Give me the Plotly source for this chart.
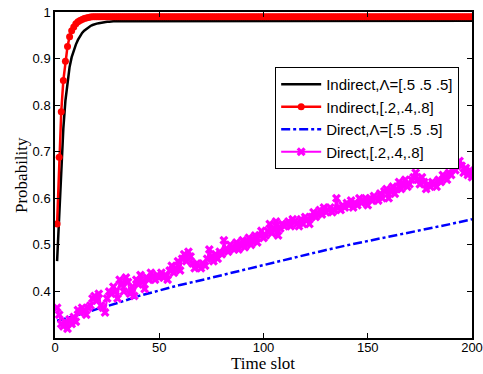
import plotly.graph_objects as go

# ---- data ----
time_slots = list(range(1, 201))

indirect_uniform = [0.465, 0.56, 0.66, 0.75, 0.81, 0.852, 0.882, 0.903, 0.918, 0.93,
                    0.94, 0.948, 0.955, 0.96, 0.964, 0.967, 0.97, 0.972, 0.974, 0.975,
                    0.976, 0.977, 0.978, 0.978, 0.979, 0.979, 0.98, 0.98, 0.98, 0.98] + [0.981] * 170

indirect_varied = [0.545, 0.688, 0.786, 0.853, 0.894, 0.926, 0.947, 0.96, 0.968, 0.975,
                   0.979, 0.982, 0.984, 0.986, 0.987, 0.988, 0.989] + [0.99] * 183

direct_uniform_x = [1, 10, 20, 30, 40, 50, 60, 70, 80, 90, 100, 110, 120, 130, 140,
                    150, 160, 170, 180, 190, 200]
direct_uniform = [0.337, 0.348, 0.362, 0.375, 0.39, 0.402, 0.414, 0.424, 0.435, 0.446,
                  0.457, 0.467, 0.478, 0.489, 0.499, 0.508, 0.517, 0.526, 0.536, 0.545, 0.555]

direct_varied = [
    0.365, 0.35, 0.33, 0.325, 0.335, 0.32, 0.34, 0.33, 0.345, 0.335,
    0.36, 0.355, 0.365, 0.36, 0.35, 0.365, 0.37, 0.385, 0.39, 0.38,
    0.395, 0.37, 0.365, 0.355, 0.385, 0.40, 0.395, 0.41, 0.40, 0.385,
    0.425, 0.415, 0.40, 0.43, 0.42, 0.395, 0.41, 0.39, 0.425, 0.415,
    0.435, 0.42, 0.405, 0.43, 0.425, 0.44, 0.43, 0.425, 0.435, 0.43,
    0.44, 0.43, 0.435, 0.425, 0.445, 0.455, 0.44, 0.45, 0.465, 0.445,
    0.47, 0.48, 0.465, 0.485, 0.475, 0.46, 0.45, 0.46, 0.455, 0.45,
    0.46, 0.455, 0.47, 0.49, 0.475, 0.465, 0.48, 0.47, 0.485, 0.48,
    0.51, 0.49, 0.485, 0.5, 0.495, 0.49, 0.505, 0.49, 0.5, 0.51,
    0.495, 0.505, 0.515, 0.5, 0.51, 0.52, 0.505, 0.52, 0.53, 0.515,
    0.52, 0.53, 0.545, 0.525, 0.535, 0.55, 0.52, 0.535, 0.545, 0.54,
    0.545, 0.55, 0.54, 0.555, 0.55, 0.545, 0.54, 0.555, 0.545, 0.56,
    0.555, 0.545, 0.56, 0.57, 0.56, 0.565, 0.575, 0.565, 0.58, 0.57,
    0.575, 0.58, 0.57, 0.575, 0.6, 0.58, 0.575, 0.585, 0.58, 0.59,
    0.585, 0.595, 0.58, 0.59, 0.585, 0.6, 0.59, 0.595, 0.6, 0.585,
    0.6, 0.595, 0.605, 0.6, 0.595, 0.61, 0.6, 0.615, 0.62, 0.6,
    0.615, 0.625, 0.61, 0.62, 0.635, 0.62, 0.63, 0.64, 0.625, 0.63,
    0.64, 0.645, 0.655, 0.64, 0.63, 0.645, 0.635, 0.62, 0.63, 0.625,
    0.635, 0.63, 0.625, 0.64, 0.635, 0.65, 0.645, 0.64, 0.655, 0.65,
    0.665, 0.66, 0.675, 0.68, 0.67, 0.655, 0.665, 0.65, 0.66, 0.645,
]

x_ticks = [0, 50, 100, 150, 200]
y_ticks = [0.4, 0.5, 0.6, 0.7, 0.8, 0.9, 1.0]
y_tick_labels = ["0.4", "0.5", "0.6", "0.7", "0.8", "0.9", "1"]
x_title = "Time slot"
y_title = "Probability"

fig = go.Figure()
fig.add_trace(go.Scatter(x=time_slots, y=indirect_uniform, mode="lines",
                         name="Indirect,Λ=[.5 .5 .5]",
                         line=dict(color="black", width=2.5)))
fig.add_trace(go.Scatter(x=time_slots, y=indirect_varied, mode="lines+markers",
                         name="Indirect,[.2,.4,.8]",
                         line=dict(color="#ff0000", width=2.5),
                         marker=dict(symbol="circle", size=7, color="#ff0000")))
fig.add_trace(go.Scatter(x=direct_uniform_x, y=direct_uniform, mode="lines",
                         name="Direct,Λ=[.5 .5 .5]",
                         line=dict(color="#0000ff", width=2.5, dash="dashdot")))
fig.add_trace(go.Scatter(x=time_slots, y=direct_varied, mode="lines+markers",
                         name="Direct,[.2,.4,.8]",
                         line=dict(color="#ff00ff", width=2),
                         marker=dict(symbol="x", size=8, color="#ff00ff")))

axis_common = dict(showline=True, linecolor="black", linewidth=1.5, mirror="ticks",
                   ticks="inside", ticklen=5, tickcolor="black", showgrid=False,
                   zeroline=False, automargin=False,
                   tickfont=dict(family="Liberation Sans, Arial", size=13, color="black"))

title_font = dict(family="Liberation Serif, Times New Roman", size=17, color="black")

fig.update_layout(
    width=483, height=374,
    margin=dict(l=55, r=11, t=12, b=36),
    paper_bgcolor="white", plot_bgcolor="white",
    showlegend=True,
    legend=dict(x=0.528, y=0.831, xanchor="left", yanchor="top",
                bgcolor="white", bordercolor="black", borderwidth=1,
                font=dict(family="Liberation Sans, Arial", size=15, color="black"),
                itemwidth=40, tracegroupgap=0),
    xaxis=dict(range=[0, 200], tickvals=x_ticks, ticklabelstandoff=-3, **axis_common),
    yaxis=dict(range=[0.3, 1.0], tickvals=y_ticks, ticktext=y_tick_labels, **axis_common),
    annotations=[
        dict(text=x_title, xref="paper", yref="paper", x=0.499, y=-0.1104,
             xanchor="center", yanchor="bottom", showarrow=False, borderpad=0,
             font=title_font),
        dict(text=y_title, xref="paper", yref="paper", x=-0.0815, y=0.5,
             xanchor="center", yanchor="middle", textangle=-90, showarrow=False,
             font=title_font),
    ],
)

fig.write_html("out.html")
